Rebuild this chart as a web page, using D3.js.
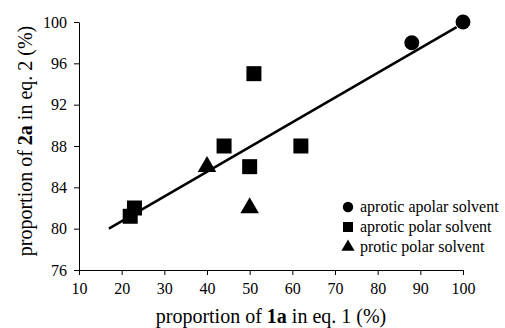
<!DOCTYPE html>
<html>
<head>
<meta charset="utf-8">
<script src="https://cdn.jsdelivr.net/npm/d3@7"></script>
<style>
  body { margin: 0; background: #fff; }
  text { font-family: "Liberation Serif", "DejaVu Serif", serif; fill: #000; }
</style>
</head>
<body>
<div id="chart"></div>
<script>
const aproticApolar = [[88, 98], [100, 100]];
const aproticPolar = [[22, 81.2], [23, 82], [44, 88], [50, 86], [51, 95], [62, 88]];
const proticPolar = [[40, 86], [50, 82]];
const fitLine = [[17, 80], [98.5, 99.5]];
const xTicks = [10, 20, 30, 40, 50, 60, 70, 80, 90, 100];
const yTicks = [76, 80, 84, 88, 92, 96, 100];
const legendLabels = ['aprotic apolar solvent', 'aprotic polar solvent', 'protic polar solvent'];

const width = 505, height = 328;
const margin = {left: 79, right: 42, top: 22, bottom: 58};

const svg = d3.select('#chart').append('svg')
  .attr('width', width)
  .attr('height', height);

const x = d3.scaleLinear().domain([10, 100]).range([margin.left, width - margin.right]);
const y = d3.scaleLinear().domain([76, 100]).range([height - margin.bottom, margin.top]);

// axes
const xAxis = svg.append('g')
  .attr('transform', `translate(0,${y(76)})`)
  .call(d3.axisBottom(x).tickValues(xTicks).tickSize(5).tickSizeOuter(0).tickPadding(5));
const yAxis = svg.append('g')
  .attr('transform', `translate(${x(10)},0)`)
  .call(d3.axisLeft(y).tickValues(yTicks).tickSize(5).tickSizeOuter(0).tickPadding(7));

[xAxis, yAxis].forEach(a => {
  a.selectAll('path, line').attr('stroke', '#000').attr('stroke-width', 1);
  a.selectAll('text').style('font-size', '16px').style('font-family', '"Liberation Serif", serif');
});
xAxis.selectAll('.tick text').attr('dy', '0.85em');

// trend line
svg.append('line')
  .attr('x1', x(fitLine[0][0])).attr('y1', y(fitLine[0][1]))
  .attr('x2', x(fitLine[1][0])).attr('y2', y(fitLine[1][1]))
  .attr('stroke', '#000')
  .attr('stroke-width', 2.5);

// markers
const sym = {
  circle: d3.symbol().type(d3.symbolCircle).size(175),
  square: d3.symbol().type(d3.symbolSquare).size(225),
  triangle: d3.symbol().type(d3.symbolTriangle).size(150)
};

function drawPoints(data, s) {
  svg.append('g').selectAll('path')
    .data(data)
    .enter()
    .append('path')
    .attr('d', s)
    .attr('transform', d => `translate(${x(d[0])},${y(d[1])})`)
    .attr('fill', '#000');
}
drawPoints(aproticPolar, sym.square);
drawPoints(proticPolar, sym.triangle);
drawPoints(aproticApolar, sym.circle);

// legend
const legendSyms = [
  d3.symbol().type(d3.symbolCircle).size(85),
  d3.symbol().type(d3.symbolSquare).size(100),
  d3.symbol().type(d3.symbolTriangle).size(75)
];
const legend = svg.append('g').attr('transform', 'translate(348,207)');
legendLabels.forEach((label, i) => {
  const row = legend.append('g').attr('transform', `translate(0,${i * 20})`);
  row.append('path').attr('d', legendSyms[i]).attr('fill', '#000');
  row.append('text')
    .attr('x', 12)
    .attr('y', 5)
    .style('font-size', '16px')
    .text(label);
});

// axis titles
const xt = svg.append('text')
  .attr('x', 271)
  .attr('y', 323)
  .attr('text-anchor', 'middle')
  .style('font-size', '20px');
xt.append('tspan').text('proportion of ');
xt.append('tspan').attr('font-weight', 'bold').text('1a');
xt.append('tspan').text(' in eq. 1 (%)');

const yt = svg.append('text')
  .attr('transform', 'translate(32,141) rotate(-90)')
  .attr('text-anchor', 'middle')
  .style('font-size', '20px');
yt.append('tspan').text('proportion of ');
yt.append('tspan').attr('font-weight', 'bold').text('2a');
yt.append('tspan').text(' in eq. 2 (%)');
</script>
</body>
</html>
